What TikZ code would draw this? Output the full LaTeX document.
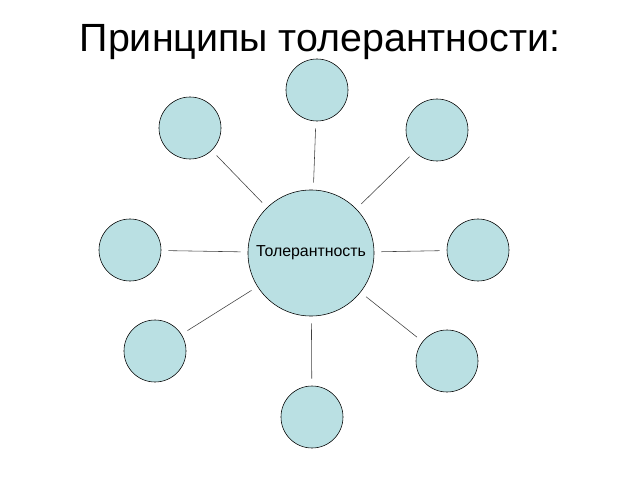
\documentclass[tikz,border=0pt]{standalone}
\usepackage{fontspec}
\setmainfont{Liberation Sans}
\begin{document}
\begin{tikzpicture}[x=0.025cm, y=-0.025cm]
    \tikzset{principle/.style={draw, circle, fill={rgb,255:red,186;green,224;blue,227}, minimum size=1.55cm, inner sep=0pt},
             link/.style={-, color=black!75, shorten >=5pt, shorten <=5pt}}
    \useasboundingbox (0,0) rectangle (640,480);
    \node at (320,42) (title) {\fontsize{28}{32}\selectfont Принципы толерантности:};
    \node[draw,circle,fill={rgb,255:red,186;green,224;blue,227},minimum size=3.15cm,inner sep=0pt] at (311,253) (c) {\fontsize{11.3}{13}\selectfont Толерантность};
    \node[principle] at (317,90) (1) {};
    \node[principle] at (190,128) (2) {};
    \node[principle] at (437,130) (3) {};
    \node[principle] at (130,250) (4) {};
    \node[principle] at (478,250) (5) {};
    \node[principle] at (155,351) (6) {};
    \node[principle] at (447,361) (7) {};
    \node[principle] at (312,417) (8) {};
    
    \draw[link] (1) to (c);
    \draw[link] (2) to (c);
    \draw[link] (3) to (c);
    \draw[link] (4) to (c);
    \draw[link] (5) to (c);
    \draw[link] (6) to (c);
    \draw[link] (7) to (c);
    \draw[link] (8) to (c);
  \end{tikzpicture}
\end{document}
